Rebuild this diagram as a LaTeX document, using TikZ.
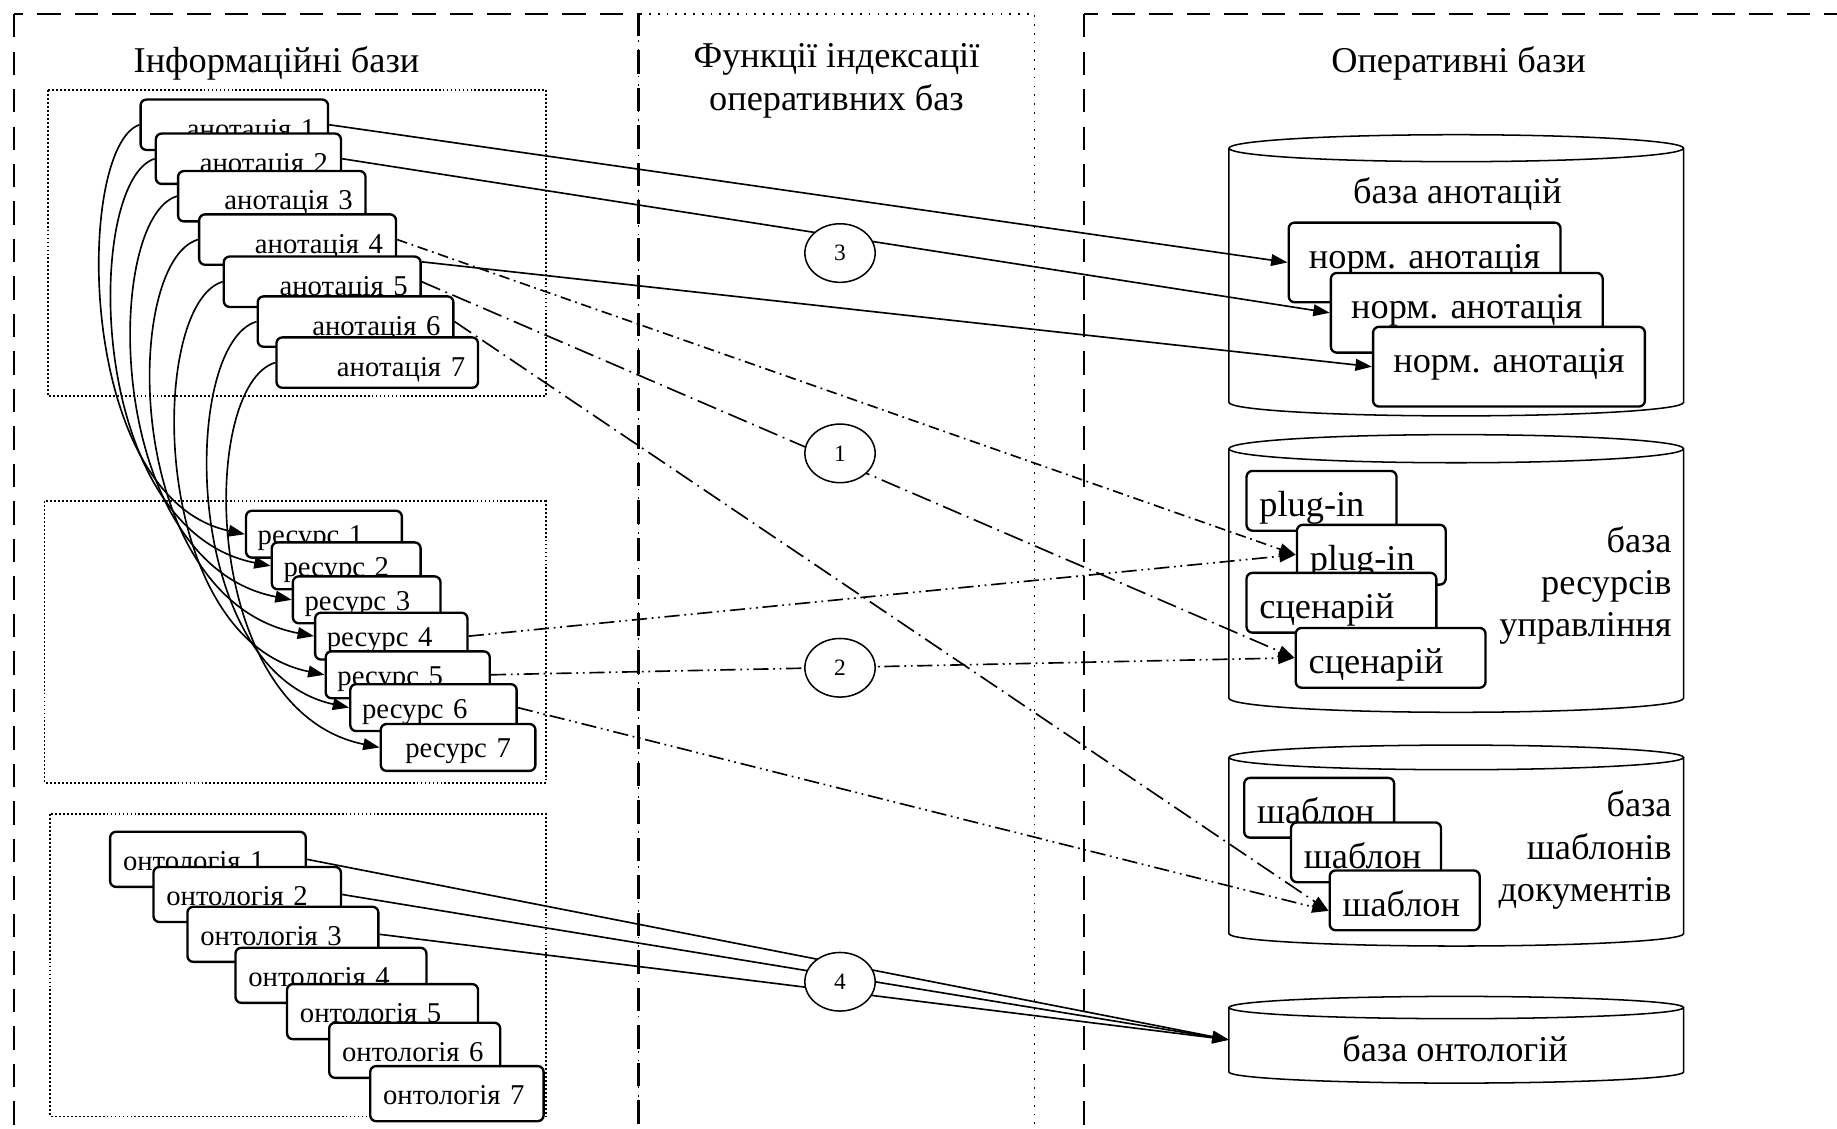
\documentclass[tikz,border=0pt]{standalone}
\usepackage{fontspec}
\setmainfont{Liberation Serif}
\usepackage{tikz}
\usetikzlibrary{arrows.meta,shapes.geometric}

\newcommand{\fbig}{\fontsize{31}{36}\selectfont}
\newcommand{\fsm}{\fontsize{24.5}{28}\selectfont}
\newcommand{\fnum}{\fontsize{20}{24}\selectfont}
\frenchspacing

\begin{document}
\begin{tikzpicture}[x=1pt,y=1pt,>={Triangle[length=14pt,width=10pt]},
    box/.style={draw, fill=white, rounded corners=5pt, line width=2pt, anchor=north west, inner ysep=0pt},
    ann/.style={box, font=\fsm, align=right, inner xsep=11pt, text height=33pt, text depth=10pt},
    res/.style={box, font=\fsm, align=left, inner xsep=10pt, text height=29pt, text depth=11pt},
    ont/.style={box, font=\fsm, align=left, inner xsep=11pt, text height=33pt, text depth=14pt},
    nrm/.style={box, font=\fbig, align=center, inner xsep=0pt, text width=232pt, text height=39pt, text depth=29pt},
    itm/.style={box, font=\fbig, align=left, inner xsep=11pt, text height=39pt, text depth=12pt},
    num/.style={ellipse, draw, fill=white, line width=1.3pt, minimum width=60pt, minimum height=50pt, inner sep=0pt, font=\fnum},
    link/.style={->, line width=1.4pt},
    dd1/.style={dash pattern=on 9pt off 4pt on 1.5pt off 4pt},
    dd2/.style={dash pattern=on 17pt off 5pt on 1.5pt off 5pt},
    ddd/.style={dash pattern=on 13pt off 4pt on 1.5pt off 4pt on 1.5pt off 4pt},
    dbframe/.style={line width=1.8pt, dash pattern=on 20pt off 12pt},
    fnzone/.style={line width=1.4pt, dash pattern=on 1.5pt off 6pt},
    grpbox/.style={line width=1.6pt, dash pattern=on 1.6pt off 1.8pt},
    head/.style={font=\fbig, align=center, inner sep=0pt}]

  \clip (0,0) rectangle (1568,963);

  \draw[dbframe] (12,951) rectangle (545,-40);
  \draw[fnzone] (545,951) rectangle (883,-40);
  \draw[dbframe] (925,951) rectangle (1620,-40);

  \draw[grpbox] (41,886) rectangle (466,625);
  \draw[grpbox] (38,535) rectangle (466,295);
  \draw[grpbox] (43,268) rectangle (466,10);

  \node[head, anchor=base] (hinfo) at (236,901) {Інформаційні бази};
  \node[head] (hfunc) at (714,894) {Функції індексації\\оперативних баз};
  \node[head, anchor=base] (hoper) at (1245,901) {Оперативні бази};

  \foreach \yt/\yb/\ry in {836.5/619.5/11.5, 580/367/12, 316.5/166/10.5, 103/48/9.5}
    \draw[line width=1.3pt] (1243,\yt) ellipse [x radius=194pt, y radius=\ry pt]
      (1049,\yt) -- (1049,\yb) arc [start angle=180, end angle=360, x radius=194pt, y radius=\ry pt] -- (1437,\yt);

  \node[font=\fbig, anchor=base] (lblann) at (1244,789.5) {база анотацій};
  \node[font=\fbig, align=right, anchor=east, inner sep=0pt] (lblres) at (1427,463.5) {база\\ресурсів\\управління};
  \node[font=\fbig, align=right, anchor=east, inner sep=0pt] (lbltpl) at (1427,237.4) {база\\шаблонів\\документів};
  \node[minimum width=388pt, minimum height=55pt, inner sep=0pt] (dbont) at (1243,75.5) {};
  \node[font=\fbig, anchor=base] (lblont) at (1242,57) {база онтологій};

  \node[ann, text width=138pt] (a1) at (119,879) {анотація~1};
  \node[ann, text width=136pt] (a2) at (132,850) {анотація~2};
  \node[ann, text width=138pt] (a3) at (151,818) {анотація~3};
  \node[ann, text width=146pt] (a4) at (169,781) {анотація~4};
  \node[ann, text width=146pt] (a5) at (190,745) {анотація~5};
  \node[ann, text width=145pt] (a6) at (219,711) {анотація~6};
  \node[ann, text width=150pt] (a7) at (235,676) {анотація~7};

  \node[res, text width=113pt] (r1) at (209,528) {ресурс~1};
  \node[res, text width=107pt] (r2) at (231,501) {ресурс~2};
  \node[res, text width=106pt] (r3) at (249,472) {ресурс~3};
  \node[res, text width=110pt] (r4) at (268,441) {ресурс~4};
  \node[res, text width=120pt] (r5) at (277,408) {ресурс~5};
  \node[res, text width=122pt] (r6) at (298,380) {ресурс~6};
  \node[res, text width=112pt, align=center] (r7) at (324,346) {ресурс~7};

  \node[ont, text width=145pt] (o1) at (93,254) {онтологія~1};
  \node[ont, text width=138pt] (o2) at (130,224) {онтологія~2};
  \node[ont, text width=141pt] (o3) at (159,190) {онтологія~3};
  \node[ont, text width=141pt] (o4) at (200,155) {онтологія~4};
  \node[ont, text width=141pt] (o5) at (244,124) {онтологія~5};
  \node[ont, text width=124pt] (o6) at (280,91) {онтологія~6};
  \node[ont, text width=126pt] (o7) at (315,54) {онтологія~7};

  \node[nrm] (n1) at (1099,774) {норм. анотація};
  \node[nrm] (n2) at (1135,731) {норм. анотація};
  \node[nrm] (n3) at (1171,685) {норм. анотація};

  \node[itm, text width=106pt] (p1) at (1063,562) {plug-in};
  \node[itm, text width=105pt] (p2) at (1106,516) {plug-in};
  \node[itm, text width=140pt] (s1) at (1063,475) {сценарій};
  \node[itm, text width=140pt] (s2) at (1105,428) {сценарій};

  \node[itm, text width=106pt] (t1) at (1061,300) {шаблон};
  \node[itm, text width=106pt] (t2) at (1101,262) {шаблон};
  \node[itm, text width=106pt] (t3) at (1134,221) {шаблон};

  \foreach \i/\c/\ya/\yr in {1/64/837.5/538, 2/72/808.5/511, 3/88/776.5/482, 4/104/739.5/451, 5/126/703.5/418, 6/154/669.5/390, 7/170/634.5/356}
    \draw[link] (a\i.west) .. controls (\c,\ya) and (\c,\yr) .. (r\i.west);

  \foreach \from/\to in {a1.east/n1.west, a2.east/n2.west}
    \draw[link] (\from) -- (\to);
  \draw[link] ([yshift=17pt]a5.east) -- (n3.west);

  \draw[link,dd1] (a4.east) -- (p2.west);
  \draw[link,dd2] (a5.east) -- (s2.west);
  \draw[link,dd2] (a6.east) -- ([yshift=-9pt]t3.west);

  \foreach \from/\to in {r4.east/p2.west, r5.east/s2.west}
    \draw[link,ddd] (\from) -- (\to);
  \draw[link,ddd] (r6.east) -- ([yshift=-9pt]t3.west);

  \foreach \i in {1,2,3}
    \draw[link] (o\i.east) -- (dbont.west);

  \node[num] (c3) at (717,747) {3};
  \node[num] (c1) at (717,576) {1};
  \node[num] (c2) at (717,393) {2};
  \node[num] (c4) at (717,125) {4};

\end{tikzpicture}
\end{document}
